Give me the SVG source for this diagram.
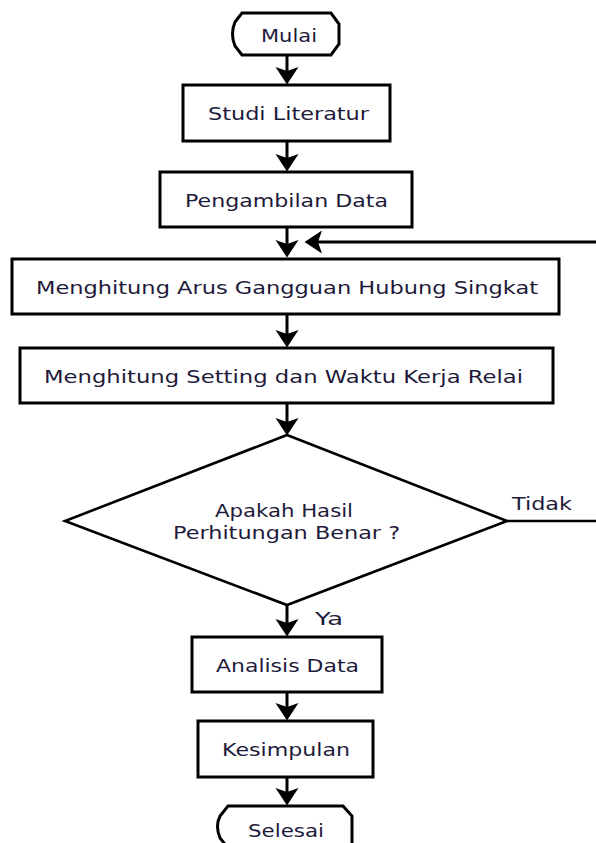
<svg xmlns="http://www.w3.org/2000/svg" width="596" height="843" viewBox="0 0 596 843">
  <style>
    .box { fill: #ffffff; stroke: #000000; stroke-width: 3; }
    .dia { fill: #ffffff; stroke: #000000; stroke-width: 2.6; }
    .ln { fill: none; stroke: #000000; stroke-width: 3; }
    .ln2 { fill: none; stroke: #000000; stroke-width: 2.5; }
    text { font-family: "DejaVu Sans", "Liberation Sans", sans-serif; font-size: 18px; fill: #1e1a3a; }
  </style>
  <defs>
    <marker id="ah" markerUnits="userSpaceOnUse" markerWidth="18" markerHeight="24" viewBox="0 0 18 24" refX="11" refY="12" orient="auto">
      <path d="M17.5,12 L0,0.5 L4,12 L0,23.5 Z" fill="#000000"/>
    </marker>
  </defs>
  <rect width="596" height="843" fill="#ffffff"/>

  <g id="connectors">
    <line class="ln" x1="287" y1="55" x2="287" y2="78" marker-end="url(#ah)"/>
    <line class="ln" x1="287" y1="141" x2="287" y2="165" marker-end="url(#ah)"/>
    <line class="ln" x1="287" y1="227" x2="287" y2="251" marker-end="url(#ah)"/>
    <line class="ln" x1="596" y1="242" x2="311" y2="242" marker-end="url(#ah)"/>
    <line class="ln" x1="287" y1="314" x2="287" y2="341" marker-end="url(#ah)"/>
    <line class="ln" x1="287" y1="403" x2="287" y2="429" marker-end="url(#ah)"/>
    <line class="ln2" x1="507" y1="521" x2="596" y2="521"/>
    <line class="ln" x1="287" y1="605" x2="287" y2="630" marker-end="url(#ah)"/>
    <line class="ln" x1="287" y1="692" x2="287" y2="714" marker-end="url(#ah)"/>
    <line class="ln" x1="287" y1="777" x2="287" y2="799" marker-end="url(#ah)"/>
    <text x="512" y="510" textLength="60" lengthAdjust="spacingAndGlyphs">Tidak</text>
    <text x="315" y="625" textLength="28" lengthAdjust="spacingAndGlyphs">Ya</text>
  </g>

  <g id="mulai">
    <path class="box" d="M242,13 L331,13 L339,24 L339,44 L331,55 L242,55 L235,46 Q230,34 235,22 Z"/>
    <text x="261" y="42" textLength="56" lengthAdjust="spacingAndGlyphs">Mulai</text>
  </g>

  <g id="studi">
    <rect class="box" x="183" y="85" width="207" height="56"/>
    <text x="208" y="120" textLength="161" lengthAdjust="spacingAndGlyphs">Studi Literatur</text>
  </g>

  <g id="pengambilan">
    <rect class="box" x="160" y="172" width="252" height="55"/>
    <text x="185" y="207" textLength="203" lengthAdjust="spacingAndGlyphs">Pengambilan Data</text>
  </g>

  <g id="arus">
    <rect class="box" x="12" y="259" width="547" height="55"/>
    <text x="36" y="294" textLength="502" lengthAdjust="spacingAndGlyphs">Menghitung Arus Gangguan Hubung Singkat</text>
  </g>

  <g id="setting">
    <rect class="box" x="20" y="348" width="533" height="55"/>
    <text x="44" y="383" textLength="479" lengthAdjust="spacingAndGlyphs">Menghitung Setting dan Waktu Kerja Relai</text>
  </g>

  <g id="keputusan">
    <polygon class="dia" points="287,435 507,521 287,605 65,521"/>
    <text x="215" y="517" textLength="138" lengthAdjust="spacingAndGlyphs">Apakah Hasil</text>
    <text x="173" y="539" textLength="227" lengthAdjust="spacingAndGlyphs">Perhitungan Benar ?</text>
  </g>

  <g id="analisis">
    <rect class="box" x="192" y="637" width="190" height="55"/>
    <text x="216" y="672" textLength="143" lengthAdjust="spacingAndGlyphs">Analisis Data</text>
  </g>

  <g id="kesimpulan">
    <rect class="box" x="198" y="721" width="175" height="56"/>
    <text x="222" y="756" textLength="128" lengthAdjust="spacingAndGlyphs">Kesimpulan</text>
  </g>

  <g id="selesai">
    <path class="box" d="M228,806 L343,806 L352,816 L352,848 L228,848 L220,838 Q215,826 220,816 Z"/>
    <text x="248" y="837" textLength="76" lengthAdjust="spacingAndGlyphs">Selesai</text>
  </g>
</svg>
